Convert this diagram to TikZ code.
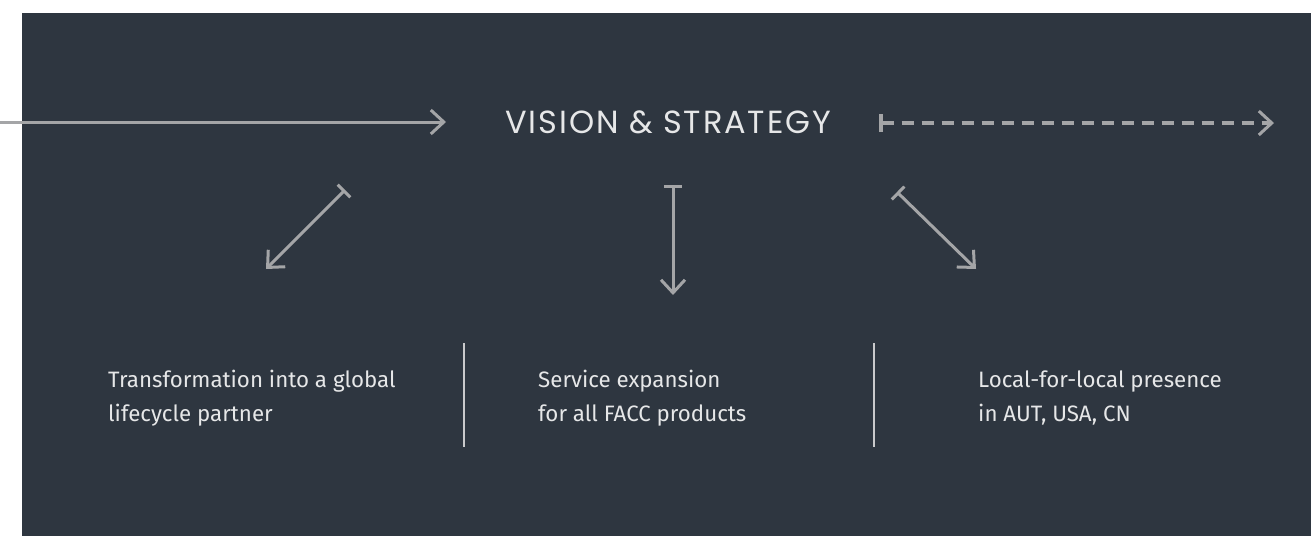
\documentclass[tikz,border=0pt]{standalone}
\usepackage{fontspec}
\usetikzlibrary{arrows.meta}
\newfontfamily\titlefont{Poppins}[LetterSpace=6]
\newfontfamily\bodyfont{Fira Sans}
\definecolor{panel}{HTML}{2E3640}
\definecolor{arrowgray}{HTML}{A4A5A7}
\definecolor{textwhite}{HTML}{E6E7E8}
\definecolor{rulegray}{HTML}{C9CACC}
\begin{document}
\begin{tikzpicture}[x=1pt,y=-1pt,
  flow/.style={draw=arrowgray,line width=3pt,
    -{Straight Barb[length=13pt,width=24pt]}},
  barflow/.style={draw=arrowgray,line width=3pt,
    {Bar[width=18pt]}-{Straight Barb[length=13pt,width=24pt]}},
  future/.style={draw=arrowgray,line width=3.6pt,dash pattern=on 12pt off 8pt,
    {Bar[width=18pt,line width=3.6pt]}-{Straight Barb[length=13pt,width=24pt,line width=3pt]}},
  heading/.style={text=textwhite,inner sep=0pt,anchor=base west,
    font=\titlefont\fontsize{32}{36}\selectfont},
  pillar/.style={text=textwhite,inner sep=0pt,anchor=base west,align=left,
    font=\bodyfont\fontsize{22.3}{34}\selectfont},
  divider/.style={draw=rulegray,line width=1.3pt}]
\useasboundingbox (0,0) rectangle (1311,536);
\fill[white] (0,0) rectangle (1311,536);
\fill[panel] (22,13) rectangle (1311,536);

% heading
\node[heading] (vs) at (505,133) {VISION \& STRATEGY};

% incoming and outgoing arrows
\coordinate (inA) at (0,122);
\coordinate (inB) at (446,122);
\draw[flow] (inA) -- (inB);
\coordinate (outA) at (879,123);
\coordinate (outB) at (1274,123);
\draw[future] (outA) -- (outB);

% three branches
\coordinate (lA) at (345,190);
\coordinate (lB) at (266,269);
\draw[barflow] (lA) -- (lB);
\coordinate (mA) at (673,185);
\coordinate (mB) at (673,295);
\draw[barflow] (mA) -- (mB);
\coordinate (rA) at (897,192);
\coordinate (rB) at (976,269);
\draw[barflow] (rA) -- (rB);

% pillars (anchored on the baseline of their second line)
\node[pillar] (p1) at (108,421) {Transformation into a global\\lifecycle partner};
\node[pillar] (p2) at (538,421) {Service expansion\\for all FACC products};
\node[pillar] (p3) at (978,421) {Local-for-local presence\\in AUT, USA, CN};

% dividers
\coordinate (d1a) at (464,343);
\coordinate (d1b) at (464,447);
\draw[divider] (d1a) -- (d1b);
\coordinate (d2a) at (874,343);
\coordinate (d2b) at (874,447);
\draw[divider] (d2a) -- (d2b);
\end{tikzpicture}
\end{document}
